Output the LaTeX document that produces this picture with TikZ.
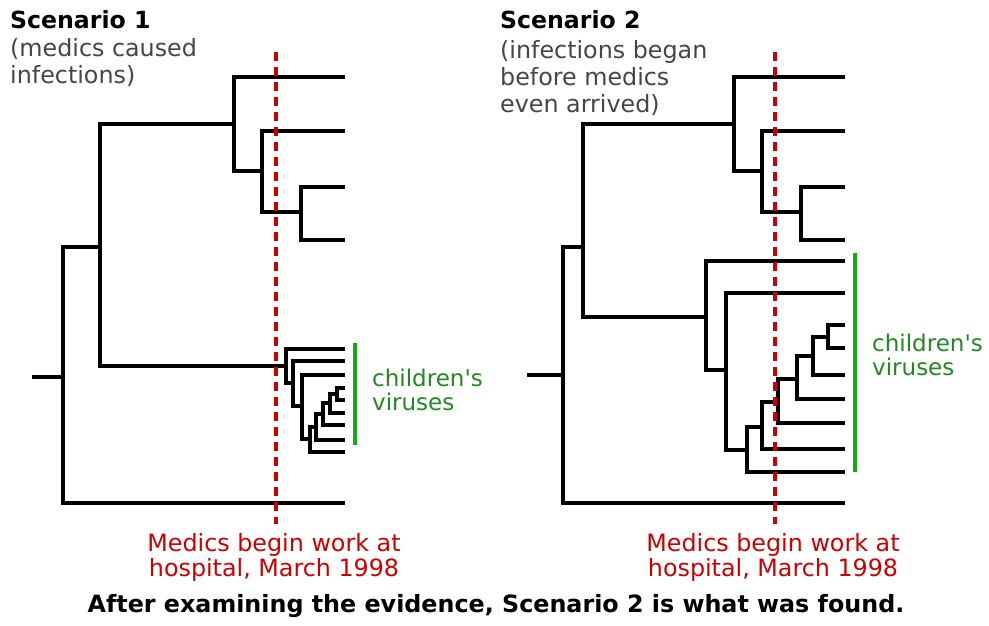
\documentclass[tikz,border=0pt]{standalone}
\usepackage{fontspec}
\setmainfont{DejaVu Sans}
\definecolor{medicRed}{RGB}{204,0,0}
\definecolor{virusGreen}{RGB}{18,170,18}
\definecolor{virusText}{RGB}{34,136,34}
\definecolor{noteGrey}{RGB}{70,70,70}
\tikzset{
    % Tree Styles
    branch/.style={draw=black, line width=3.4pt, line join=miter},
    medicLine/.style={draw=medicRed, line width=3.4pt, dash pattern=on 9pt off 6pt},
    virusBar/.style={draw=virusGreen, line width=4.5pt},
    % Text Styles
    titleLabel/.style={font=\bfseries\fontsize{23.6}{26}\selectfont, anchor=base west, inner sep=0pt},
    noteLabel/.style={font=\fontsize{23.8}{27}\selectfont, text=noteGrey, align=left, anchor=north west, inner sep=0pt},
    medicLabel/.style={font=\fontsize{23.8}{25}\selectfont, text=medicRed, align=center, anchor=north, inner sep=0pt},
    virusLabel/.style={font=\fontsize{23}{24}\selectfont, text=virusText, align=left, anchor=north west, inner sep=0pt},
    captionLabel/.style={font=\bfseries\fontsize{23.8}{26}\selectfont, anchor=base, inner sep=0pt}
}
\begin{document}
\begin{tikzpicture}[x=1pt, y=-1pt]

    \useasboundingbox[fill=white] (0,0) rectangle (989,626);

    % --- SCENARIO 1 (medics caused infections) ---

    % Internal nodes
    \coordinate (aStub) at (32,377);
    \coordinate (aRoot) at (63,377);
    \coordinate (aN1) at (100,247);
    \coordinate (aN2) at (234,124);
    \coordinate (aN3) at (262,171);
    \coordinate (aN4) at (301,212);
    \coordinate (aV1) at (286,366);
    \coordinate (aV2) at (293,383);
    \coordinate (aV3) at (302,406);
    \coordinate (aV4) at (310,439);
    \coordinate (aV5) at (316,427);
    \coordinate (aV6) at (323,414);
    \coordinate (aV7) at (330,403);
    \coordinate (aV8) at (337,394);

    % Leaves
    \coordinate (aL1) at (345,77);
    \coordinate (aL2) at (345,131);
    \coordinate (aL3) at (345,187);
    \coordinate (aL4) at (345,240);
    \coordinate (aL5) at (345,349);
    \coordinate (aL6) at (345,361);
    \coordinate (aL7) at (345,375);
    \coordinate (aL8) at (345,388);
    \coordinate (aL9) at (345,400);
    \coordinate (aL10) at (345,413);
    \coordinate (aL11) at (345,425);
    \coordinate (aL12) at (345,440);
    \coordinate (aL13) at (345,452);
    \coordinate (aL14) at (345,503);

    % Branches
    \draw [branch] (aStub) -- (aRoot);
    \draw [branch] (aN1) -| (aRoot) |- (aL14);
    \draw [branch] (aN2) -| (aN1) |- (aV1);
    \draw [branch] (aL1) -| (aN2) |- (aN3);
    \draw [branch] (aL2) -| (aN3) |- (aN4);
    \draw [branch] (aL3) -| (aN4) |- (aL4);
    \draw [branch] (aL5) -| (aV1) |- (aV2);
    \draw [branch] (aL6) -| (aV2) |- (aV3);
    \draw [branch] (aL7) -| (aV3) |- (aV4);
    \draw [branch] (aV5) -| (aV4) |- (aL13);
    \draw [branch] (aV6) -| (aV5) |- (aL12);
    \draw [branch] (aV7) -| (aV6) |- (aL11);
    \draw [branch] (aV8) -| (aV7) |- (aL10);
    \draw [branch] (aL8) -| (aV8) |- (aL9);

    % Medics arrival and children's group
    \coordinate (aMedTop) at (276,52);
    \coordinate (aMedBot) at (276,524);
    \draw [medicLine] (aMedTop) -- (aMedBot);
    \coordinate (aBarTop) at (355,343);
    \coordinate (aBarBot) at (355,445);
    \draw [virusBar] (aBarTop) -- (aBarBot);

    \node (aTitle) [titleLabel] at (10,29) {Scenario 1};
    \node (aNote) [noteLabel] at (10,38) {(medics caused\\infections)};
    \node (aVirus) [virusLabel] at (372,368.5) {children\textquotesingle s\\viruses};
    \node (aMedic) [medicLabel] at (274,533) {Medics begin work at\\hospital, March 1998};

    % --- SCENARIO 2 (infections began before medics) ---

    % Internal nodes
    \coordinate (bStub) at (527,375);
    \coordinate (bRoot) at (563,375);
    \coordinate (bN1) at (583,247);
    \coordinate (bN2) at (734,124);
    \coordinate (bN3) at (762,171);
    \coordinate (bN4) at (801,212);
    \coordinate (bV1) at (706,317);
    \coordinate (bV2) at (726,370);
    \coordinate (bV3) at (747,450);
    \coordinate (bV4) at (762,427);
    \coordinate (bV5) at (778,402);
    \coordinate (bV6) at (797,379);
    \coordinate (bV7) at (813,356);
    \coordinate (bV8) at (828,337);

    % Leaves
    \coordinate (bL1) at (845,77);
    \coordinate (bL2) at (845,131);
    \coordinate (bL3) at (845,187);
    \coordinate (bL4) at (845,240);
    \coordinate (bL5) at (845,261);
    \coordinate (bL6) at (845,293);
    \coordinate (bL7) at (845,325);
    \coordinate (bL8) at (845,348);
    \coordinate (bL9) at (845,375);
    \coordinate (bL10) at (845,399);
    \coordinate (bL11) at (845,423);
    \coordinate (bL12) at (845,449);
    \coordinate (bL13) at (845,472);
    \coordinate (bL14) at (845,503);

    % Branches
    \draw [branch] (bStub) -- (bRoot);
    \draw [branch] (bN1) -| (bRoot) |- (bL14);
    \draw [branch] (bN2) -| (bN1) |- (bV1);
    \draw [branch] (bL1) -| (bN2) |- (bN3);
    \draw [branch] (bL2) -| (bN3) |- (bN4);
    \draw [branch] (bL3) -| (bN4) |- (bL4);
    \draw [branch] (bL5) -| (bV1) |- (bV2);
    \draw [branch] (bL6) -| (bV2) |- (bV3);
    \draw [branch] (bV4) -| (bV3) |- (bL13);
    \draw [branch] (bV5) -| (bV4) |- (bL12);
    \draw [branch] (bV6) -| (bV5) |- (bL11);
    \draw [branch] (bV7) -| (bV6) |- (bL10);
    \draw [branch] (bV8) -| (bV7) |- (bL9);
    \draw [branch] (bL7) -| (bV8) |- (bL8);

    % Medics arrival and children's group
    \coordinate (bMedTop) at (775,52);
    \coordinate (bMedBot) at (775,524);
    \draw [medicLine] (bMedTop) -- (bMedBot);
    \coordinate (bBarTop) at (855,253);
    \coordinate (bBarBot) at (855,472);
    \draw [virusBar] (bBarTop) -- (bBarBot);

    \node (bTitle) [titleLabel] at (500,29) {Scenario 2};
    \node (bNote) [noteLabel] at (500,40) {(infections began\\before medics\\even arrived)};
    \node (bVirus) [virusLabel] at (872,333.5) {children\textquotesingle s\\viruses};
    \node (bMedic) [medicLabel] at (773,533) {Medics begin work at\\hospital, March 1998};

    % --- Caption ---
    \node (caption) [captionLabel] at (496,612) {After examining the evidence, Scenario 2 is what was found.};

\end{tikzpicture}
\end{document}
